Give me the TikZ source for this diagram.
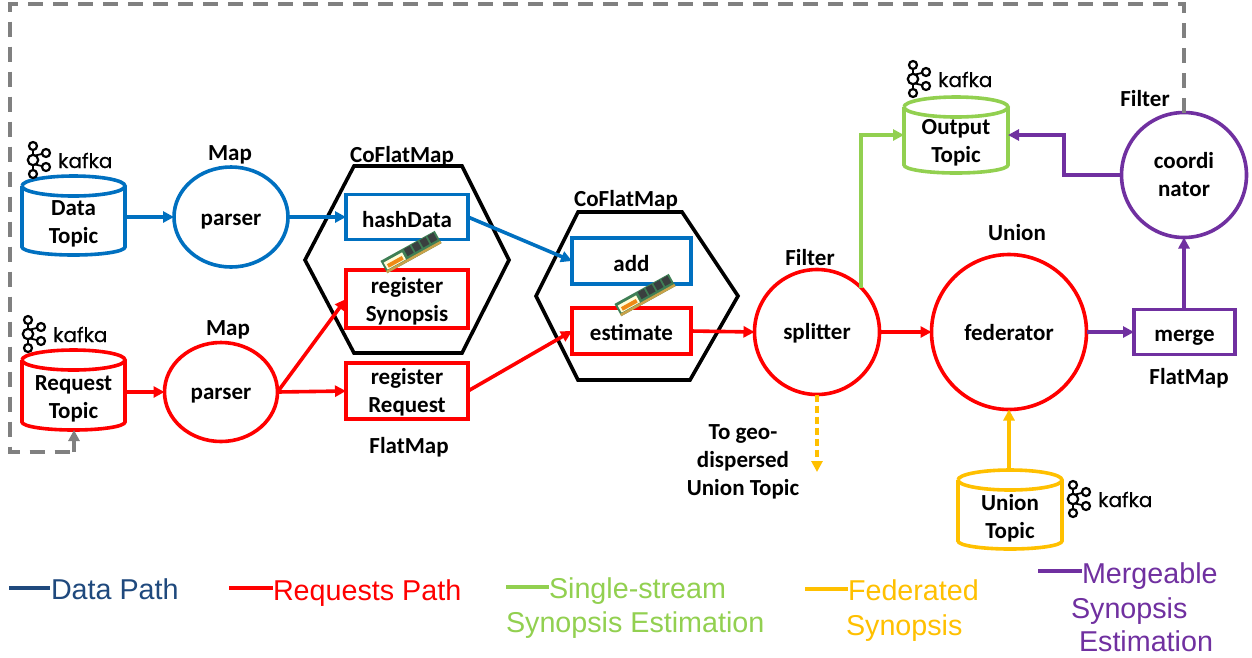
\documentclass[tikz,border=0pt]{standalone}
\usepackage{fontspec}
\setmainfont{Carlito}
\newfontfamily\legfont{Liberation Sans}
\newfontfamily\kaffont[FakeBold=0.3]{Poppins}
\usetikzlibrary{arrows.meta,shapes.geometric,calc}
\definecolor{cblue}{HTML}{0070C0}
\definecolor{cred}{HTML}{FF0000}
\definecolor{cgreen}{HTML}{92D050}
\definecolor{cyel}{HTML}{FFC000}
\definecolor{cpur}{HTML}{7030A0}
\definecolor{cgray}{HTML}{808080}
\definecolor{cnavy}{HTML}{1F497D}
\definecolor{ramgreen}{HTML}{3F7F55}
\definecolor{ramchip}{HTML}{3A3F3F}
\definecolor{ramgold}{HTML}{C9A24A}
% lower a text by #1 pt inside its node: the box is made taller by twice that
\newcommand{\dn}[2]{\raisebox{0pt}[\dimexpr\height+#1pt+#1pt\relax]{#2}}
% two lines, lowered by #1 pt, without making the node any larger
\newcommand{\dnn}[2]{\raisebox{-\dimexpr#1pt+5.75pt\relax}[0pt][0pt]{\begin{tabular}{@{}c@{}}#2\end{tabular}}}
\tikzset{
  lab/.style={font=\fontsize{23}{28}\selectfont\bfseries,align=center,inner sep=0pt,outer sep=0pt,text=black},
  leg/.style={font=\legfont\fontsize{28.7}{34}\selectfont,align=left,inner sep=0pt,outer sep=0pt,anchor=base west},
  legline/.style={line width=3.5pt},
  oval/.style={lab,ellipse,draw,line width=3.6pt},
  ring/.style={lab,circle,draw,line width=3.6pt},
  opbox/.style={lab,rectangle,draw,line width=3.6pt},
  hexa/.style={line width=3.6pt,black,line join=miter},
  flow/.style={line width=3.6pt,-{Triangle[length=11pt,width=11pt]}},
  tank/.style={rectangle,inner sep=0pt,outer sep=0pt},
  kafkalogo/.pic={
    \draw[black,line width=1.8pt] (0,-14)--(0,14) (0,-4)--(13,-7) (0,4)--(13,7);
    \draw[black,line width=2.2pt,fill=white] (0,0) circle (5.2) (0,-14) circle (4) (0,14) circle (4) (13,-7) circle (4) (13,7) circle (4);
    \node[inner sep=0pt,anchor=base west,font=\kaffont\fontsize{20}{20}\selectfont] at (25,8) {kafka};
  },
  ramstick/.pic={
    \begin{scope}[rotate=29]
      \fill[ramgreen] (-31,-7) rectangle (31,7);
      \fill[white!85!yellow] (-29,-4) rectangle (-8,4);
      \fill[orange!70!ramgold] (-27,-1) rectangle (-10,3);
      \foreach \x in {-5,4,13,22}{\fill[ramchip] (\x,-6) rectangle (\x+7,2);}
      \fill[ramgold] (-31,4.5) rectangle (31,7);
    \end{scope}
  }
}
\newcommand{\tankdraw}[8]{% name, x1, x2, top, bottom, colour, text, text centre y
  \node[tank,minimum width=#3pt-#2pt,minimum height=#5pt-#4pt] (#1) at ({(#2+#3)/2},{(#4+#5)/2}) {};
  \draw[#6,line width=3.6pt]
    (#2,#4+10) arc[x radius={(#3-#2)/2},y radius=10,start angle=180,end angle=-180]
    (#2,#4+10) -- (#2,#5-8) arc[x radius={(#3-#2)/2},y radius=8,start angle=180,end angle=0] -- (#3,#4+10);
  \node[lab] (#1t) at ({(#2+#3)/2},#8) {#7};
}
\begin{document}
\begin{tikzpicture}[x=1pt,y=-1pt]
\useasboundingbox (0,0) rectangle (1252,657);
\fill[white] (0,0) rectangle (1252,657);

% hexagons
\draw[hexa] (305,260)--(354,166)--(462,166)--(509,260)--(462,353)--(354,353)--cycle;
\draw[hexa] (536,296)--(578,212)--(682,212)--(738,296)--(690,380)--(578,380)--cycle;

% cylinders
\tankdraw{data}{22}{125}{176}{255}{cblue}{Data\\Topic}{224}
\tankdraw{req}{22}{125}{350}{430}{cred}{Request\\Topic}{399}
\tankdraw{out}{904}{1008}{97}{173}{cgreen}{Output\\Topic}{143}
\tankdraw{uni}{958}{1062}{470}{549}{cyel}{Union\\Topic}{518}

% kafka logos
\pic at (33,160) {kafkalogo};
\pic at (28,334) {kafkalogo};
\pic at (913,79) {kafkalogo};
\pic at (1073,499) {kafkalogo};

% operators
\node[oval,draw=cblue,minimum width=114pt,minimum height=100pt] (p1) at (231,217) {\dn{5}{parser}};
\node[oval,draw=cred,minimum width=113pt,minimum height=99pt] (p2) at (221,392) {\dn{4}{parser}};
\node[opbox,draw=cblue,minimum width=122pt,minimum height=45pt] (hash) at (407,217) {\dn{3}{hashData}};
\node[opbox,draw=cred,minimum width=122pt,minimum height=58pt,text width=118pt] (regs) at (407,299) {\dnn{3}{register\\Synopsis}};
\node[opbox,draw=cred,minimum width=122pt,minimum height=56pt,text width=118pt] (regr) at (407,391) {\dnn{2}{register\\Request}};
\node[opbox,draw=cblue,minimum width=119pt,minimum height=46pt] (add) at (631.5,261) {\dn{3}{add}};
\node[opbox,draw=cred,minimum width=119pt,minimum height=46pt] (est) at (631.5,331) {\dn{1}{estimate}};
\node[ring,draw=cred,minimum size=125pt] (split) at (817,332) {\dn{1}{splitter}};
\node[ring,draw=cred,minimum size=155pt] (fed) at (1009,332) {\dn{1}{federator}};
\node[opbox,draw=cpur,minimum width=101pt,minimum height=45pt] (merge) at (1184.5,332) {\dn{6}{merge}};
\node[ring,draw=cpur,minimum size=125pt] (coord) at (1184,175) {coordi\\nator};

% labels
\node[lab] (l1) at (230,155) {Map};
\node[lab] (l2) at (228,330) {Map};
\node[lab] (l3) at (402,156) {CoFlatMap};
\node[lab] (l4) at (626,200) {CoFlatMap};
\node[lab] (l5) at (409,447) {FlatMap};
\node[lab] (l6) at (810,258) {Filter};
\node[lab] (l7) at (1017,233) {Union};
\node[lab] (l8) at (1189,378) {FlatMap};
\node[lab] (l9) at (1145,99) {Filter};
\node[lab] (l10) at (743,462) {To geo-\\dispersed\\Union Topic};

% connectors
\coordinate (dataR) at (data.east |- p1.center);
\draw[flow,cblue] (dataR) -- (p1.west);
\draw[flow,cblue] (p1.east) -- (hash.west);
\draw[flow,cblue] (hash.east) -- (add.west);
\coordinate (reqR) at (req.east |- p2.center);
\draw[flow,cred] (reqR) -- (p2.west);
\draw[flow,cred] (p2.east) -- (regs.west);
\draw[flow,cred] (p2.east) -- (regr.west);
\draw[flow,cred] (regr.east) -- (est.west);
\draw[flow,cred] (est.east) -- (split.west);
\draw[flow,cred] (split.east) -- (fed.west);
\draw[flow,cpur] (fed.east) -- (merge.west);
\draw[flow,cpur] (merge.north -| coord.south) -- (coord.south);
\coordinate (outR) at (1008,135);
\coordinate (outL) at (904,135);
\draw[flow,cpur,line join=miter] (coord.west) -- (1064,175) -- (1064,135) -- (outR);
\draw[flow,cgreen,line join=miter] (split.45) -- (split.45 |- outL) -- (outL);
\draw[flow,cyel] (uni.north -| fed.south) -- (fed.south);
\coordinate (geo) at (817,472);
\draw[flow,cyel,dash pattern=on 7pt off 4pt] (split.south) -- (geo);
\coordinate (bend) at (74,452);
\draw[cgray,line width=3.6pt,dash pattern=on 15pt off 10pt] (coord.north) -- (1184,4) -- (10,4) -- (10,452) -- (bend);
\draw[cgray,line width=3.6pt,-{Triangle[length=11pt,width=11pt]}] (bend) -- (bend |- req.south);

% memory sticks
\pic at (411,252) {ramstick};
\pic at (645,295) {ramstick};

% legend
\coordinate (a1) at (9,588); \coordinate (a2) at (50,588);
\draw[legline,cnavy] (a1)--(a2);
\node[leg,text=cnavy] (t1) at (51,599) {Data Path};
\coordinate (b1) at (229,588); \coordinate (b2) at (273,588);
\draw[legline,cred] (b1)--(b2);
\node[leg,text=cred] (t2) at (273,600) {Requests Path};
\coordinate (c1) at (506,587); \coordinate (c2) at (549,587);
\draw[legline,cgreen] (c1)--(c2);
\node[leg,text=cgreen] (t3) at (549,598) {Single-stream};
\node[leg,text=cgreen] (t4) at (506,632) {Synopsis Estimation};
\coordinate (d1) at (805,589); \coordinate (d2) at (848,589);
\draw[legline,cyel] (d1)--(d2);
\node[leg,text=cyel] (t5) at (848,600) {Federated};
\node[leg,text=cyel] (t6) at (846,635) {Synopsis};
\coordinate (e1) at (1038,571); \coordinate (e2) at (1082,571);
\draw[legline,cpur] (e1)--(e2);
\node[leg,text=cpur] (t7) at (1082,583) {Mergeable};
\node[leg,text=cpur] (t8) at (1071,618) {Synopsis};
\node[leg,text=cpur] (t9) at (1079,651) {Estimation};
\end{tikzpicture}
\end{document}
